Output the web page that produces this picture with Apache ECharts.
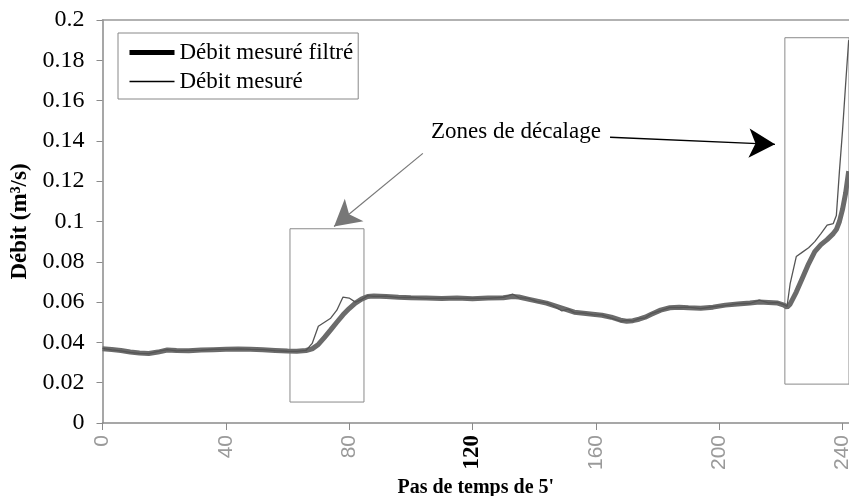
<!DOCTYPE html>
<html>
<head>
<meta charset="utf-8">
<script src="https://cdn.jsdelivr.net/npm/echarts@6/dist/echarts.min.js"></script>
<style>html,body{margin:0;padding:0;background:#fff}#c{width:849px;height:496px}</style>
</head>
<body>
<div id="c"></div>
<script>
const times = [0,3,6,9,12,15,18,21,24,28,32,36,40,44,48,52,56,60,63,66,68,70,72,74,76,78,80,82,84,86,88,92,96,100,105,110,115,120,125,130,133,135,138,141,144,147,149,151,153,156,159,162,165,168,170,172,174,176,178,181,184,187,190,194,198,202,206,210,213,216,219,221,222,223,225,227,229,231,233,235,237,238,239,240,241,242];
const filtered = [0.0368,0.0365,0.0360,0.0352,0.0347,0.0345,0.0352,0.0362,0.0360,0.0358,0.0362,0.0364,0.0366,0.0367,0.0366,0.0363,0.0360,0.0357,0.0356,0.0360,0.0368,0.0390,0.0425,0.0462,0.0500,0.0537,0.0568,0.0595,0.0615,0.0628,0.0630,0.0628,0.0624,0.0622,0.0620,0.0618,0.0620,0.0617,0.0620,0.0622,0.0628,0.0625,0.0615,0.0605,0.0595,0.0580,0.0570,0.0560,0.0550,0.0545,0.0540,0.0535,0.0525,0.0510,0.0505,0.0508,0.0515,0.0525,0.0540,0.0560,0.0572,0.0575,0.0572,0.0570,0.0575,0.0585,0.0590,0.0595,0.0600,0.0598,0.0595,0.0585,0.0575,0.0590,0.0650,0.0720,0.0790,0.0850,0.0885,0.0910,0.0940,0.0960,0.1000,0.1060,0.1140,0.1250];
const measured = [0.0370,0.0363,0.0358,0.0350,0.0346,0.0344,0.0355,0.0364,0.0358,0.0360,0.0361,0.0366,0.0365,0.0368,0.0365,0.0364,0.0359,0.0356,0.0355,0.0360,0.0395,0.0480,0.0500,0.0520,0.0560,0.0625,0.0620,0.0600,0.0612,0.0632,0.0628,0.0630,0.0622,0.0624,0.0618,0.0620,0.0618,0.0619,0.0618,0.0624,0.0640,0.0622,0.0618,0.0602,0.0597,0.0575,0.0556,0.0565,0.0548,0.0546,0.0538,0.0537,0.0520,0.0505,0.0510,0.0506,0.0518,0.0522,0.0543,0.0558,0.0574,0.0573,0.0575,0.0568,0.0577,0.0583,0.0592,0.0593,0.0610,0.0596,0.0598,0.0588,0.0578,0.0690,0.0826,0.0848,0.0870,0.0900,0.0940,0.0982,0.0990,0.1030,0.1250,0.1450,0.1680,0.1900];
const xTicks = [0,40,80,120,160,200,240];
const yTicks = [0,0.02,0.04,0.06,0.08,0.1,0.12,0.14,0.16,0.18,0.2];
const zones = [[[60.8,0.0104],[84.8,0.0964]],[[221.3,0.0193],[260,0.1912]]];
const arrows = [[[103.9,0.1338],[75.1,0.0975]],[[164.6,0.1418],[218.1,0.1383]]];
const annotation = {text:'Zones de décalage', at:[134.1,0.1443]};
const seriesNames = ['Débit mesuré filtré','Débit mesuré'];

const chart = echarts.init(document.getElementById('c'), null, {renderer:'canvas'});
const F = 'Liberation Serif, Times New Roman, serif';
const FS = 'Liberation Sans, Arial, sans-serif';
const axisGrey = '#8a8a8a';
chart.setOption({
  animation:false,
  backgroundColor:'#fff',
  textStyle:{fontFamily:F},
  grid:{left:102.5,right:0,top:20,bottom:73,containLabel:false,outerBoundsMode:'none'},
  legend:{
    orient:'vertical',left:118,top:33,
    padding:[8,5,6,9],itemGap:6,itemWidth:45,itemHeight:14,
    borderColor:'#888',borderWidth:1,backgroundColor:'#fff',
    textStyle:{fontFamily:F,fontSize:23,color:'#000',lineHeight:22},
    lineStyle:{color:'#000',width:'inherit'},
    itemStyle:{color:'#000',opacity:0},
    data:seriesNames
  },
  xAxis:[{
    type:'value',min:0,max:242.1,interval:40,
    name:"Pas de temps de 5'",nameLocation:'middle',nameGap:48,
    nameTextStyle:{fontFamily:F,fontSize:20,fontWeight:'bold',color:'#000'},
    axisLine:{lineStyle:{color:axisGrey,width:1.5}},
    axisTick:{show:true,length:7,lineStyle:{color:axisGrey}},
    splitLine:{show:false},
    axisLabel:{
      rotate:90,fontFamily:FS,fontSize:21,color:'#9a9a9a',margin:12,
      formatter:function(v){ if(xTicks.indexOf(v)<0) return ''; return v===120?'{b|120}':String(v); },
      rich:{b:{fontFamily:F,fontSize:23,fontWeight:'bold',color:'#000'}}
    }
  },{
    type:'value',position:'top',min:0,max:242.1,
    axisLine:{show:true,onZero:false,lineStyle:{color:'#999',width:1.5}},
    axisTick:{show:false},axisLabel:{show:false},splitLine:{show:false}
  }],
  yAxis:{
    type:'value',min:0,max:0.2,interval:0.02,
    name:'Débit (m³/s)',nameLocation:'middle',nameGap:66,
    nameTextStyle:{fontFamily:F,fontSize:23,fontWeight:'bold',color:'#000'},
    axisLine:{show:true,lineStyle:{color:axisGrey,width:1.5}},
    axisTick:{show:true,length:6,lineStyle:{color:axisGrey}},
    splitLine:{show:false},
    axisLabel:{fontFamily:F,fontSize:24,color:'#000',margin:18,
      formatter:function(v){ const r=Math.round(v*100)/100; return yTicks.indexOf(r)>=0?String(r):''; }}
  },
  series:[
    {
      name:seriesNames[0],type:'line',symbol:'none',
      data:times.map((t,i)=>[t,filtered[i]]),
      lineStyle:{color:'#6b6b6b',width:5},itemStyle:{color:'#6b6b6b'},
      z:2,
      markArea:{silent:true,
        itemStyle:{color:'rgba(0,0,0,0)',borderColor:'#8a8a8a',borderWidth:1},
        data:zones.map(z=>[{coord:z[0]},{coord:z[1]}])
      }
    },
    {
      name:seriesNames[1],type:'line',symbol:'none',
      data:times.map((t,i)=>[t,measured[i]]),
      lineStyle:{color:'#555',width:1.3},itemStyle:{color:'#555'},
      z:3,
      markLine:{silent:true,symbol:['none','arrow'],symbolSize:[22,26],
        label:{show:false},
        data:[
          [{coord:arrows[0][0],lineStyle:{color:'#777',width:1.2,type:'solid'}},{coord:arrows[0][1]}],
          [{coord:arrows[1][0],lineStyle:{color:'#000',width:1.3,type:'solid'}},{coord:arrows[1][1]}]
        ]
      },
      markPoint:{silent:true,symbol:'circle',symbolSize:1,itemStyle:{color:'rgba(0,0,0,0)'},
        label:{show:true,position:'inside',fontFamily:F,fontSize:23,color:'#000',formatter:annotation.text},
        data:[{coord:annotation.at}]
      }
    }
  ]
});
</script>
</body>
</html>
